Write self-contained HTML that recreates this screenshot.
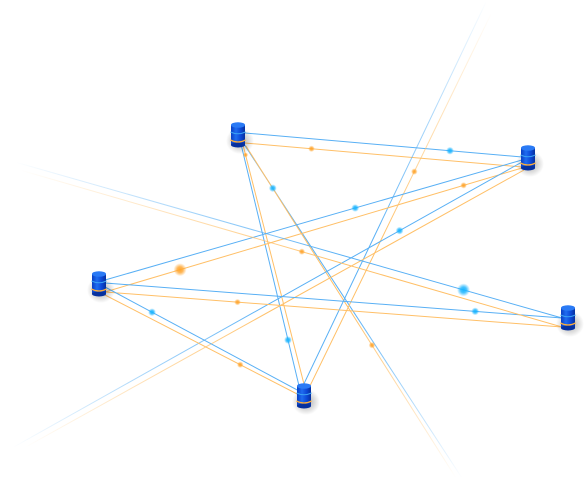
<!DOCTYPE html>
<html><head><meta charset="utf-8"><style>
html,body{margin:0;padding:0;background:#fff;}
svg{display:block;}
</style></head><body>
<svg id="chart" width="588" height="500" viewBox="0 0 588 500">
<defs>
<linearGradient id="cyl" x1="0" x2="1" y1="0" y2="0">
<stop offset="0" stop-color="#0a3fc4"/><stop offset="0.35" stop-color="#1f6cf0"/><stop offset="0.7" stop-color="#0c48d6"/><stop offset="1" stop-color="#06309e"/>
</linearGradient>
<radialGradient id="shadow"><stop offset="0" stop-color="#000" stop-opacity="0.35"/><stop offset="1" stop-color="#000" stop-opacity="0"/></radialGradient>
<radialGradient id="glowB"><stop offset="0" stop-color="#19b4ff" stop-opacity="1"/><stop offset="0.45" stop-color="#19b4ff" stop-opacity="0.8"/><stop offset="1" stop-color="#19b4ff" stop-opacity="0"/></radialGradient>
<radialGradient id="glowO"><stop offset="0" stop-color="#ffa52e" stop-opacity="1"/><stop offset="0.45" stop-color="#ffa52e" stop-opacity="0.8"/><stop offset="1" stop-color="#ffa52e" stop-opacity="0"/></radialGradient>
</defs>
<g id="links" opacity="0.85"></g><g id="dots"></g><g id="nodes"></g>
</svg>
<script>
const NS='http://www.w3.org/2000/svg';
// node coordinates (graph layout)
const nodeNames=['A','B','C','D','E'];
const nodeX=[238,528,99,568,304];
const nodeY=[135,158,284,318,396];
// links: [x1,y1,x2,y2,color,fadeStartAlpha,fadeEndAlpha]
const links=[
 [245,133,522,157,'b',1,1],[245,143,522,167,'o',1,1],
 [240,140,300,390,'b',1,1],[243,145,306,392,'o',1,1],
 [242,141,462,478,'b',1,0],[246,146,456,478,'o',1,0],
 [487,0,301,390,'b',0,1],[492,12,307,392,'o',0,1],
 [105,280,522,160,'b',1,1],[105,292,522,168,'o',1,1],
 [522,162,12,448,'b',1,0],[524,170,24,448,'o',1,0],
 [105,283,562,318,'b',1,1],[105,292,562,327,'o',1,1],
 [105,287,301,392,'b',1,1],[105,295,301,396,'o',1,1],
 [15,162,562,318,'b',0,1],[20,170,562,327,'o',0,1]
];
// dots: [linkIndex, t along link, size]
const dots=[
 [1,0.24,2.5],[0,0.74,3],[2,0.8,3],[3,0.04,2],[4,0.14,3],[5,0.6,2.5],
 [7,0.42,2.5],[8,0.6,3],[9,0.18,5],[9,0.86,2.5],[10,0.24,3],[13,0.29,2.5],
 [12,0.81,3],[14,0.24,3],[15,0.69,2.5],[16,0.82,5],[17,0.52,2.5]
];
const col={b:'#3ba2f3',o:'#ffb54d'};
const lg=document.getElementById('links'),dg=document.getElementById('dots'),ng=document.getElementById('nodes');
const defs=document.querySelector('defs');
links.forEach((l,i)=>{
 const g=document.createElementNS(NS,'linearGradient');
 g.setAttribute('id','lg'+i);g.setAttribute('gradientUnits','userSpaceOnUse');
 g.setAttribute('x1',l[0]);g.setAttribute('y1',l[1]);g.setAttribute('x2',l[2]);g.setAttribute('y2',l[3]);
 g.innerHTML=`<stop offset="0" stop-color="${col[l[4]]}" stop-opacity="${l[5]}"/><stop offset="${l[5]?0.5:0.6}" stop-color="${col[l[4]]}" stop-opacity="1"/><stop offset="1" stop-color="${col[l[4]]}" stop-opacity="${l[6]}"/>`;
 defs.appendChild(g);
 const ln=document.createElementNS(NS,'line');
 
 
 ln.setAttribute('x1',l[0]);ln.setAttribute('y1',l[1]);ln.setAttribute('x2',l[2]);ln.setAttribute('y2',l[3]);
 ln.setAttribute('stroke','url(#lg'+i+')');ln.setAttribute('stroke-width','1');
 lg.appendChild(ln);
});
dots.forEach((d,i)=>{
 const l=links[d[0]];const x=l[0]+(l[2]-l[0])*d[1],y=l[1]+(l[3]-l[1])*d[1];
 const c=document.createElementNS(NS,'circle');
 
 
 c.setAttribute('cx',x);c.setAttribute('cy',y);c.setAttribute('r',d[2]*1.3);
 c.setAttribute('fill',l[4]=='b'?'url(#glowB)':'url(#glowO)');
 dg.appendChild(c);
});
nodeNames.forEach((n,i)=>{
 const x=nodeX[i],y=nodeY[i];
 const g=document.createElementNS(NS,'g');
 
 
 g.innerHTML=`<ellipse cx="${x+2}" cy="${y+6}" rx="14" ry="13" fill="url(#shadow)"/>
 <rect x="${x-7}" y="${y-10}" width="14" height="20" fill="url(#cyl)"/>
 <ellipse cx="${x}" cy="${y+10}" rx="7" ry="2.5" fill="#06309e"/>
 <ellipse cx="${x}" cy="${y-10}" rx="7" ry="2.8" fill="#2a7af5"/>
 <path d="M${x-7.5} ${y-3} Q${x} ${y+0.5} ${x+7.5} ${y-3}" stroke="#3ba2f3" stroke-width="1" fill="none"/>
 <path d="M${x-7.5} ${y+5} Q${x} ${y+9} ${x+7.5} ${y+5}" stroke="#ffae3a" stroke-width="1.3" fill="none"/>`;
 ng.appendChild(g);
});
</script>
</body></html>
